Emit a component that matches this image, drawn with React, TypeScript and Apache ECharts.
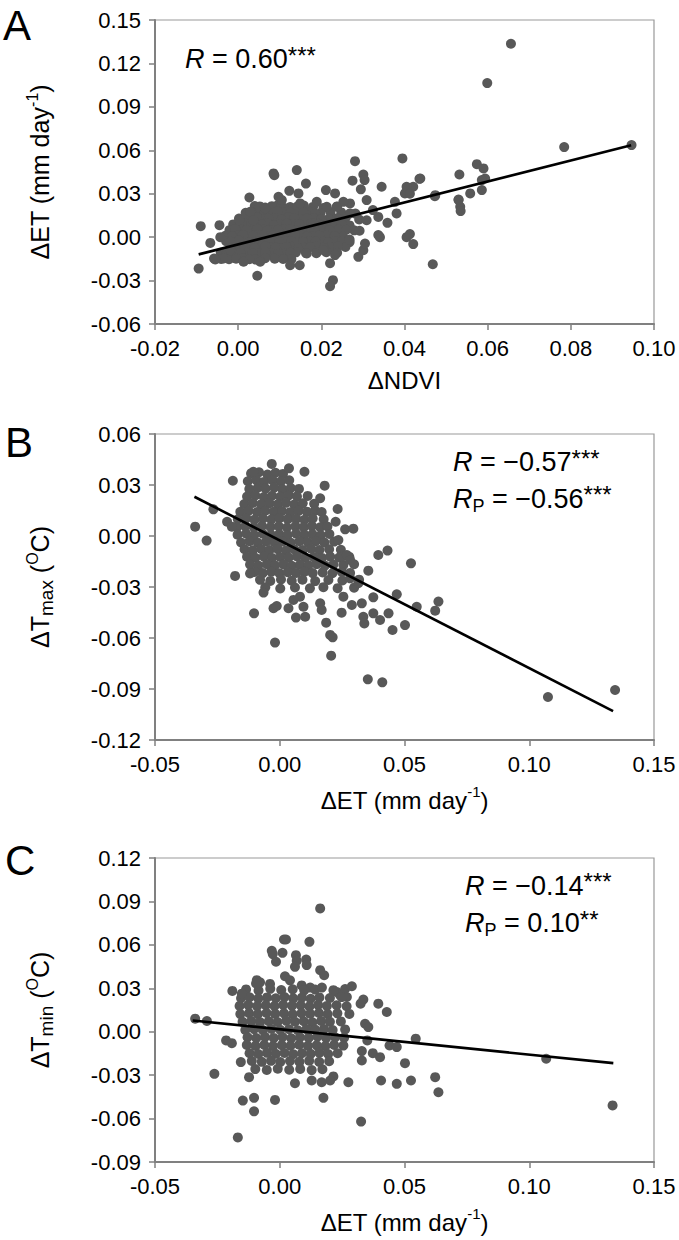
import React, { useEffect, useRef } from "react";
import * as echarts from "echarts";

const FONT = "'Liberation Sans', Arial, Helvetica, sans-serif";

// ---------- tick values ----------
const ndviTicks = [-0.02, 0.0, 0.02, 0.04, 0.06, 0.08, 0.1];
const etTicksA = [-0.06, -0.03, 0.0, 0.03, 0.06, 0.09, 0.12, 0.15];
const etTicks = [-0.05, 0.0, 0.05, 0.1, 0.15];
const tmaxTicks = [-0.12, -0.09, -0.06, -0.03, 0.0, 0.03, 0.06];
const tminTicks = [-0.09, -0.06, -0.03, 0.0, 0.03, 0.06, 0.09, 0.12];

// ---------- labels ----------
const panelLetters = ["A", "B", "C"];
const statsA = ["{i|R}{n| = 0.60}{s|***}"];
const statsB = ["{i|R}{n| = \u22120.57}{s|***}", "{i|R}{sub|P}{n| = \u22120.56}{s|***}"];
const statsC = ["{i|R}{n| = \u22120.14}{s|***}", "{i|R}{sub|P}{n| = 0.10}{s|**}"];
const titleNdvi = "{n|\u0394NDVI}";
const titleEt = "{n|\u0394ET (mm day}{sup|-1}{n|)}";
const titleTmax = "{n|\u0394T}{sub|max}{n| (}{sup|O}{n|C)}";
const titleTmin = "{n|\u0394T}{sub|min}{n| (}{sup|O}{n|C)}";

// ---------- Panel A: ΔNDVI vs ΔET ----------
const ndviEtPoints: [number, number][] = [
  [0.004, 0.0215], [0.0065, 0.0205], [0.0095, 0.022], [0.0125, 0.0208], [0.0158, 0.0218], [0.0205, 0.0202], [0.0238, 0.0212],
  [0.0052, 0.0212], [0.0081, 0.0214], [0.011, 0.0203], [0.0142, 0.0211], [0.018, 0.0209],
  [0.0018, 0.0168], [0.0048, 0.0176], [0.0078, 0.0165], [0.011, 0.0172], [0.0142, 0.0162], [0.0172, 0.0175], [0.0198, 0.0166], [0.0248, 0.0171], [0.0282, 0.0163],
  [0.0033, 0.017], [0.0063, 0.0163], [0.0094, 0.0177], [0.0126, 0.0168], [0.0157, 0.0171], [0.0185, 0.0161], [0.0222, 0.0174],
  [0.0002, 0.0128], [0.0031, 0.0134], [0.0059, 0.0125], [0.0088, 0.0131], [0.0121, 0.0136], [0.0149, 0.0124], [0.0182, 0.0132], [0.0218, 0.0127], [0.0259, 0.0135], [0.0291, 0.0122],
  [0.0016, 0.0124], [0.0045, 0.0137], [0.0073, 0.0129], [0.0104, 0.0122], [0.0135, 0.0133], [0.0165, 0.0129], [0.02, 0.0125], [0.0238, 0.0131],
  [-0.0012, 0.0088], [0.0019, 0.0092], [0.0042, 0.0085], [0.0071, 0.0095], [0.0101, 0.0087], [0.0132, 0.0091], [0.0161, 0.0084], [0.0192, 0.0093], [0.0229, 0.0089], [0.0268, 0.0081],
  [0.0004, 0.0084], [0.0031, 0.0097], [0.0057, 0.0089], [0.0086, 0.0083], [0.0117, 0.0094], [0.0147, 0.0088], [0.0176, 0.0096], [0.021, 0.0086], [0.0248, 0.0094],
  [-0.0021, 0.0048], [0.0008, 0.0052], [0.0033, 0.0045], [0.0058, 0.0055], [0.0082, 0.0049], [0.0111, 0.0054], [0.0139, 0.0046], [0.0168, 0.0051], [0.0199, 0.0044], [0.0241, 0.0053], [0.0279, 0.0047],
  [-0.0007, 0.0056], [0.002, 0.0049], [0.0046, 0.0058], [0.007, 0.0046], [0.0096, 0.0051], [0.0125, 0.0057], [0.0153, 0.0049], [0.0183, 0.0055], [0.022, 0.0048], [0.026, 0.0051],
  [-0.0031, 0.0009], [0.0001, 0.0012], [0.0022, 0.0006], [0.0049, 0.0014], [0.0072, 0.0008], [0.0098, 0.0011], [0.0121, 0.0005], [0.0151, 0.0013], [0.0179, 0.0007], [0.0212, 0.0012], [0.0252, 0.0004],
  [-0.0015, 0.0005], [0.0011, 0.0015], [0.0036, 0.0009], [0.006, 0.0004], [0.0085, 0.0014], [0.011, 0.0008], [0.0136, 0.0015], [0.0165, 0.0004], [0.0195, 0.0011], [0.0232, 0.0008],
  [-0.0029, -0.0028], [-0.0008, -0.0034], [0.0012, -0.0026], [0.0041, -0.0032], [0.0062, -0.0025], [0.0089, -0.0033], [0.0112, -0.0029], [0.0141, -0.0035], [0.0171, -0.0027], [0.0202, -0.0031], [0.0231, -0.0026], [0.0268, -0.0034],
  [-0.0018, -0.0031], [0.0002, -0.0024], [0.0027, -0.0035], [0.0051, -0.0029], [0.0076, -0.0027], [0.01, -0.0036], [0.0127, -0.0026], [0.0156, -0.0032], [0.0186, -0.003], [0.0216, -0.0035], [0.025, -0.0029],
  [-0.0018, -0.0068], [0.0003, -0.0074], [0.0028, -0.0066], [0.0052, -0.0073], [0.0079, -0.0069], [0.0102, -0.0075], [0.0129, -0.0067], [0.0158, -0.0072], [0.0188, -0.0065], [0.0221, -0.0071], [0.0258, -0.0068],
  [-0.0008, -0.0071], [0.0016, -0.0069], [0.004, -0.0077], [0.0066, -0.0065], [0.009, -0.0072], [0.0116, -0.0069], [0.0144, -0.0076], [0.0173, -0.0069], [0.0205, -0.0074], [0.024, -0.0065],
  [-0.0042, -0.0108], [-0.0011, -0.0113], [0.0021, -0.0106], [0.0049, -0.0115], [0.0081, -0.0109], [0.0112, -0.0112], [0.0139, -0.0105], [0.0188, -0.0111], [0.0238, -0.0107],
  [-0.0027, -0.0111], [0.0005, -0.0109], [0.0035, -0.0112], [0.0065, -0.0104], [0.0096, -0.0115], [0.0126, -0.0108], [0.0163, -0.011], [0.0212, -0.0104],
  [-0.0058, -0.0148], [-0.0022, -0.0152], [0.0011, -0.0146], [0.0042, -0.0155], [0.0088, -0.0149], [0.0128, -0.0153],
  [-0.0041, -0.0151], [-0.0005, -0.0149], [0.0027, -0.0153], [0.0065, -0.0146], [0.0108, -0.0151],
  [-0.009, 0.0076], [-0.0095, -0.0217], [-0.0067, -0.004], [-0.0045, 0.0083], [-0.0043, 0.0], [0.0027, 0.0274], [0.0046, -0.0267],
  [0.0085, 0.044], [0.0087, 0.0428], [0.0141, 0.0463], [0.0163, 0.037], [0.0123, 0.032], [0.0148, -0.0194], [0.0221, -0.018],
  [0.0228, -0.0297], [0.0221, -0.0339], [0.0233, -0.0124], [0.0281, 0.0525], [0.0301, 0.0433], [0.0304, 0.0394], [0.0275, 0.039],
  [0.0295, 0.033], [0.0211, 0.0325], [0.0345, 0.0348], [0.0309, 0.0256], [0.0395, 0.0544], [0.0438, 0.0405], [0.0421, 0.0348],
  [0.0401, 0.0302], [0.0405, 0.0348], [0.0377, 0.0244], [0.0381, 0.0164], [0.0359, 0.0099], [0.0337, 0.0014], [0.0341, 0.0],
  [0.0405, 0.0], [0.0413, 0.0021], [0.0421, -0.0048], [0.0468, -0.0187], [0.0473, 0.0283], [0.0532, 0.0433], [0.053, 0.0256],
  [0.0534, 0.021], [0.0535, 0.018], [0.0574, 0.0504], [0.059, 0.0475], [0.0586, 0.0325], [0.0558, 0.0302], [0.0594, 0.0405],
  [0.0586, 0.0394], [0.0436, 0.0403], [0.0474, 0.029], [0.053, 0.026], [0.0413, 0.03],
  [0.0289, -0.0136], [0.0301, -0.009], [0.0305, -0.0044], [0.0292, 0.0044], [0.0268, -0.0016], [0.0337, 0.014], [0.0324, 0.0187],
  [0.0309, 0.0117], [0.0269, 0.0164], [0.0269, 0.0233], [0.0253, 0.0244], [0.0237, 0.021], [0.0213, 0.021], [0.0233, 0.0302],
  [0.0189, 0.0244], [0.0181, 0.0094], [0.0205, -0.009], [0.0165, -0.0113], [0.0125, -0.0194], [0.0029, 0.0175], [0.0003, 0.0117],
  [-0.0035, -0.0147], [-0.0055, -0.0154], [-0.0019, -0.009], [0.0013, -0.017], [0.0053, -0.017], [0.0097, 0.0279], [0.0105, 0.0256],
  [0.0145, 0.0302], [0.0149, 0.0233], [0.0065, 0.0198], [0.0037, 0.0117],
  [0.0656, 0.1336], [0.0599, 0.1064], [0.0784, 0.0622], [0.0946, 0.0636],
];
const ndviEtFit: [number, number][] = [[-0.0095, -0.0119], [0.0945, 0.0635]];

// ---------- Panel B: ΔET vs ΔTmax ----------
const etTmaxPoints: [number, number][] = [
  [-0.0115, 0.0368], [-0.0083, 0.0375], [-0.0049, 0.0362], [-0.0017, 0.0372], [0.0013, 0.0365],
  [-0.0128, 0.0322], [-0.0094, 0.0329], [-0.0063, 0.0318], [-0.0028, 0.0327], [0.0005, 0.0321], [0.0038, 0.0328],
  [-0.0122, 0.0276], [-0.0088, 0.0284], [-0.0057, 0.0279], [-0.0022, 0.0285], [0.0011, 0.0274], [0.0044, 0.0282], [0.0077, 0.0277],
  [-0.0131, 0.0232], [-0.0098, 0.0238], [-0.0064, 0.0229], [-0.0031, 0.0237], [0.0002, 0.0231], [0.0036, 0.0239], [0.0069, 0.0233], [0.0112, 0.0236],
  [-0.0142, 0.0188], [-0.0108, 0.0194], [-0.0075, 0.0186], [-0.0041, 0.0193], [-0.0008, 0.0187], [0.0025, 0.0195], [0.0058, 0.0185], [0.0092, 0.0192], [0.0138, 0.0189],
  [-0.0158, 0.0142], [-0.0125, 0.0148], [-0.0091, 0.0141], [-0.0058, 0.0149], [-0.0024, 0.0143], [0.0009, 0.0147], [0.0042, 0.014], [0.0076, 0.0148], [0.0109, 0.0143], [0.0142, 0.0149], [0.0168, 0.0141],
  [-0.0168, 0.0098], [-0.0134, 0.0104], [-0.0101, 0.0096], [-0.0067, 0.0103], [-0.0034, 0.0097], [-0.0001, 0.0105], [0.0032, 0.0099], [0.0066, 0.0102], [0.0099, 0.0095], [0.0132, 0.0103], [0.0176, 0.0098],
  [-0.0171, 0.0052], [-0.0138, 0.0058], [-0.0104, 0.0051], [-0.0071, 0.0059], [-0.0037, 0.0053], [-0.0004, 0.0057], [0.0029, 0.005], [0.0063, 0.0058], [0.0096, 0.0052], [0.0129, 0.0059], [0.0162, 0.0051], [0.0191, 0.0056],
  [-0.0169, 0.0008], [-0.0135, 0.0014], [-0.0102, 0.0006], [-0.0068, 0.0013], [-0.0035, 0.0007], [-0.0002, 0.0012], [0.0031, 0.0005], [0.0065, 0.0014], [0.0098, 0.0008], [0.0131, 0.0011], [0.0165, 0.0004], [0.0199, 0.0012],
  [-0.0155, -0.0038], [-0.0121, -0.0031], [-0.0088, -0.0039], [-0.0054, -0.0032], [-0.0021, -0.0037], [0.0012, -0.0033], [0.0045, -0.004], [0.0079, -0.0031], [0.0112, -0.0036], [0.0145, -0.003], [0.0179, -0.0038], [0.0218, -0.0033],
  [-0.0141, -0.0078], [-0.0108, -0.0084], [-0.0074, -0.0076], [-0.0041, -0.0083], [-0.0008, -0.0077], [0.0026, -0.0085], [0.0059, -0.0079], [0.0092, -0.0082], [0.0126, -0.0075], [0.0159, -0.0083], [0.0198, -0.0078], [0.0245, -0.0081],
  [-0.0131, -0.0122], [-0.0098, -0.0128], [-0.0064, -0.0121], [-0.0031, -0.0129], [0.0002, -0.0123], [0.0036, -0.0127], [0.0069, -0.012], [0.0102, -0.0128], [0.0136, -0.0124], [0.0169, -0.0129], [0.0202, -0.0121], [0.0238, -0.0127], [0.0279, -0.0123],
  [-0.0119, -0.0168], [-0.0086, -0.0174], [-0.0052, -0.0166], [-0.0019, -0.0173], [0.0015, -0.0167], [0.0048, -0.0175], [0.0081, -0.0169], [0.0115, -0.0172], [0.0148, -0.0165], [0.0181, -0.0174], [0.0215, -0.0168], [0.0255, -0.0171], [0.0298, -0.0166],
  [-0.0101, -0.0212], [-0.0068, -0.0218], [-0.0034, -0.0211], [-0.0001, -0.0219], [0.0032, -0.0213], [0.0066, -0.0217], [0.0099, -0.021], [0.0132, -0.0218], [0.0172, -0.0214], [0.0211, -0.0219], [0.0249, -0.0212], [0.0282, -0.0217],
  [-0.0079, -0.0258], [-0.0038, -0.0264], [0.0005, -0.0256], [0.0048, -0.0263], [0.0091, -0.0257], [0.0142, -0.0265], [0.0195, -0.0259], [0.0251, -0.0262], [0.0318, -0.0257],
  [-0.0058, -0.0302], [0.0002, -0.0309], [0.0061, -0.0303], [0.0121, -0.0308], [0.0175, -0.0301], [0.0232, -0.0307], [0.0298, -0.0304],
  [-0.0339, 0.0055], [-0.0293, -0.0027], [-0.0266, 0.0157], [-0.0188, 0.0325], [-0.0211, 0.0084], [-0.0192, 0.0055], [-0.0179, -0.0235],
  [-0.0103, -0.0455], [-0.0119, -0.022], [-0.0065, -0.0333], [-0.0032, 0.0424], [-0.0106, 0.0378], [0.0037, 0.0398], [0.0099, 0.0378],
  [-0.0019, -0.0627], [0.018, 0.0296], [0.0162, 0.0222], [0.0232, 0.0159], [0.0224, 0.0084], [0.0262, 0.0039], [0.0295, 0.0043],
  [0.0235, -0.0024], [0.0395, -0.0112], [0.0432, -0.0086], [0.0526, -0.0161], [0.0355, -0.0204], [0.0469, -0.0343], [0.0549, -0.0416],
  [0.0636, -0.0386], [0.0623, -0.0439], [0.0502, -0.0524], [0.0452, -0.0553], [0.0402, -0.0494], [0.0436, -0.0455], [0.0375, -0.0455],
  [0.0335, -0.0475], [0.0339, -0.0514], [0.0248, -0.0451], [0.0186, -0.051], [0.0202, -0.0582], [0.0212, -0.0596], [0.0206, -0.0704],
  [0.0353, -0.0843], [0.0411, -0.0861], [0.0289, -0.0406], [0.0329, -0.0396], [0.0375, -0.0361], [0.0255, -0.0357], [0.0162, -0.0396],
  [0.0168, -0.0435], [0.0095, -0.0416], [0.0102, -0.0475], [0.0065, -0.048], [0.0035, -0.0425], [-0.0025, -0.0425], [-0.0012, -0.0412],
  [0.0081, -0.0357], [0.0055, -0.0376], [0.0282, -0.0249], [0.0315, -0.0278], [0.0249, -0.0122], [0.0269, -0.0112], [0.0282, -0.0141],
  [0.1075, -0.0947], [0.1344, -0.0906],
];
const etTmaxFit: [number, number][] = [[-0.0342, 0.0231], [0.1336, -0.103]];

// ---------- Panel C: ΔET vs ΔTmin ----------
const etTminPoints: [number, number][] = [
  [-0.0079, 0.0341], [-0.0039, 0.033], [0.0021, 0.0383], [0.0041, 0.0355], [0.0088, 0.032], [0.0122, 0.0305], [0.0228, 0.0275], [0.0242, 0.0252], [0.0269, 0.024],
  [-0.0135, 0.0292], [-0.0085, 0.0284], [-0.0038, 0.0296], [0.0006, 0.0288], [0.0052, 0.0293], [0.0098, 0.0286], [0.0142, 0.0291], [0.0215, 0.0287], [0.0262, 0.0295],
  [-0.0155, 0.0232], [-0.0121, 0.0238], [-0.0086, 0.0229], [-0.0051, 0.0237], [-0.0016, 0.0231], [0.0019, 0.0239], [0.0054, 0.023], [0.0089, 0.0236], [0.0124, 0.0228], [0.0159, 0.0237], [0.0201, 0.0233], [0.0248, 0.0239],
  [-0.0161, 0.0178], [-0.0126, 0.0184], [-0.0091, 0.0176], [-0.0056, 0.0183], [-0.0021, 0.0177], [0.0014, 0.0185], [0.0049, 0.0179], [0.0084, 0.0182], [0.0119, 0.0175], [0.0154, 0.0184], [0.0189, 0.0178], [0.0228, 0.0183], [0.0268, 0.0176],
  [-0.0158, 0.0122], [-0.0123, 0.0128], [-0.0088, 0.0121], [-0.0053, 0.0129], [-0.0018, 0.0123], [0.0017, 0.0127], [0.0052, 0.012], [0.0087, 0.0128], [0.0122, 0.0124], [0.0157, 0.0129], [0.0192, 0.0121], [0.0231, 0.0127], [0.0279, 0.0123],
  [-0.0149, 0.0068], [-0.0114, 0.0074], [-0.0079, 0.0066], [-0.0044, 0.0073], [-0.0009, 0.0067], [0.0026, 0.0075], [0.0061, 0.0069], [0.0096, 0.0072], [0.0131, 0.0065], [0.0166, 0.0074], [0.0201, 0.0068], [0.0245, 0.0071],
  [-0.0138, 0.0012], [-0.0103, 0.0018], [-0.0068, 0.0011], [-0.0033, 0.0019], [0.0002, 0.0013], [0.0037, 0.0017], [0.0072, 0.001], [0.0107, 0.0018], [0.0142, 0.0014], [0.0177, 0.0019], [0.0212, 0.0011], [0.0262, 0.0016],
  [-0.0129, -0.0038], [-0.0094, -0.0044], [-0.0059, -0.0036], [-0.0024, -0.0043], [0.0011, -0.0037], [0.0046, -0.0045], [0.0081, -0.0039], [0.0116, -0.0042], [0.0151, -0.0035], [0.0186, -0.0044], [0.0222, -0.0038], [0.0258, -0.0041],
  [-0.0132, -0.0092], [-0.0097, -0.0098], [-0.0062, -0.0091], [-0.0027, -0.0099], [0.0008, -0.0093], [0.0043, -0.0097], [0.0078, -0.009], [0.0113, -0.0098], [0.0148, -0.0094], [0.0183, -0.0099], [0.0218, -0.0091], [0.0255, -0.0096],
  [-0.0121, -0.0148], [-0.0086, -0.0154], [-0.0051, -0.0146], [-0.0016, -0.0153], [0.0019, -0.0147], [0.0054, -0.0155], [0.0089, -0.0149], [0.0124, -0.0152], [0.0159, -0.0145], [0.0194, -0.0154], [0.0232, -0.0148],
  [-0.0112, -0.0202], [-0.0072, -0.0208], [-0.0035, -0.0201], [0.0002, -0.0209], [0.0041, -0.0203], [0.0079, -0.0207], [0.0118, -0.02], [0.0158, -0.0208], [0.0198, -0.0204],
  [-0.0098, -0.0258], [-0.0052, -0.0264], [-0.0008, -0.0256], [0.0038, -0.0263], [0.0082, -0.0257], [0.0128, -0.0265], [0.0171, -0.0259],
  [0.0162, 0.0852], [0.0017, 0.0637], [0.0025, 0.0637], [0.0119, 0.0621], [-0.0032, 0.0559], [-0.0028, 0.0536], [0.0011, 0.0545],
  [-0.0015, 0.0483], [0.0065, 0.0529], [0.0068, 0.049], [0.0106, 0.0499], [0.0108, 0.046], [0.0061, 0.0448], [0.0162, 0.0425],
  [0.0178, 0.039], [0.0169, 0.0305], [-0.0092, 0.0356], [-0.0095, 0.0333], [-0.019, 0.0282], [-0.0152, 0.0263], [0.0289, 0.0314],
  [0.0335, 0.0222], [0.0324, 0.0194], [0.0395, 0.0194], [0.0429, 0.0136], [0.0342, 0.0055], [0.0355, 0.0032], [-0.0339, 0.009],
  [-0.0292, 0.0074], [-0.0215, -0.006], [-0.0192, -0.0079], [-0.0262, -0.0291], [-0.0156, -0.021], [-0.0123, -0.0314], [-0.0148, -0.0476],
  [-0.0103, -0.0457], [-0.0103, -0.055], [-0.0019, -0.0471], [-0.0168, -0.073], [0.0061, -0.0356], [0.0175, -0.0457], [0.0275, -0.0349],
  [0.0326, -0.0621], [0.0329, -0.0199], [0.0329, -0.0134], [0.0373, -0.0148], [0.0402, -0.0176], [0.0351, -0.006], [0.0406, -0.0337],
  [0.0469, -0.036], [0.0526, -0.0337], [0.044, -0.0095], [0.0469, -0.0106], [0.0502, -0.0217], [0.0545, -0.0048], [0.0623, -0.0314],
  [0.0636, -0.0418], [0.0215, -0.0309], [0.0202, -0.0337], [0.0128, -0.0337], [0.0168, -0.0349],
  [0.1068, -0.0187], [0.1334, -0.0509],
];
const etTminFit: [number, number][] = [[-0.0349, 0.0078], [0.1337, -0.0217]];

// ---------- layout ----------
const W = 679;
const H = 1240;
const grids = [
  { left: 155, top: 20, width: 499, height: 304 },
  { left: 155, top: 434, width: 499, height: 306 },
  { left: 155, top: 858, width: 499, height: 304 },
];
const letterPos = [
  { x: 3, y: 25 },
  { x: 5, y: 442 },
  { x: 5, y: 860 },
];
const statPos = [
  { x: 185, y: 59, dy: 0 },
  { x: 453, y: 462, dy: 36.5 },
  { x: 465, y: 885.5, dy: 37.5 },
];

const DOT = "#585858";
const AXIS = "#808080";

const step = (t: number[]) => +(t[1] - t[0]).toFixed(4);
const fmt = (v: number) => (Math.abs(v) < 1e-9 ? "0.00" : v.toFixed(2));

const makeRich = (size: number) => ({
  n: { fontSize: size, fontFamily: FONT, color: "#000", lineHeight: 32 },
  sup: { fontSize: Math.round(size * 0.64), fontFamily: FONT, color: "#000", verticalAlign: "top", lineHeight: 18 },
  sub: { fontSize: Math.round(size * 0.74), fontFamily: FONT, color: "#000", verticalAlign: "bottom", lineHeight: 20 },
});
const nameRichX = makeRich(24);
const nameRichY = makeRich(25);

function makeAxis(ticks: number[], gridIndex: number, name: string, isY: boolean) {
  return {
    type: "value",
    gridIndex,
    min: ticks[0],
    max: ticks[ticks.length - 1],
    interval: step(ticks),
    name,
    nameLocation: "middle",
    nameGap: isY ? 99 : gridIndex === 0 ? 40 : 44,
    nameRotate: isY ? 90 : 0,
    nameTextStyle: { rich: isY ? nameRichY : nameRichX, fontFamily: FONT, color: "#000" },
    axisLine: { show: true, onZero: false, lineStyle: { color: AXIS, width: 2 } },
    axisTick: { show: true, inside: false, length: 6, lineStyle: { color: AXIS, width: 1.5 } },
    axisLabel: {
      formatter: fmt,
      fontSize: 22,
      fontFamily: FONT,
      color: "#000",
      margin: isY ? 14 : 13,
    },
    splitLine: { show: false },
  };
}

const statRich = {
  i: { fontSize: 27, fontStyle: "italic", fontFamily: FONT, fill: "#000", lineHeight: 32 },
  n: { fontSize: 27, fontFamily: FONT, fill: "#000", lineHeight: 32 },
  s: { fontSize: 24, fontFamily: FONT, fill: "#000", verticalAlign: "top", lineHeight: 29 },
  sub: { fontSize: 18, fontFamily: FONT, fill: "#000", verticalAlign: "bottom", lineHeight: 20 },
};

export default function App() {
  const ref = useRef<HTMLDivElement>(null);

  useEffect(() => {
    if (!ref.current) return;
    const chart = echarts.init(ref.current, null, { renderer: "svg", width: W, height: H });

    const scatter = (data: [number, number][], i: number) => ({
      type: "scatter",
      xAxisIndex: i,
      yAxisIndex: i,
      data,
      symbol: "circle",
      symbolSize: 10,
      itemStyle: { color: DOT, opacity: 1 },
      z: 2,
    });
    const fit = (data: [number, number][], i: number) => ({
      type: "line",
      xAxisIndex: i,
      yAxisIndex: i,
      data,
      symbol: "none",
      lineStyle: { color: "#000", width: 2.6 },
      z: 3,
    });

    const stats = [statsA, statsB, statsC];
    const graphics: any[] = [];
    panelLetters.forEach((l, i) => {
      graphics.push({
        type: "text",
        x: letterPos[i].x,
        y: letterPos[i].y,
        style: {
          text: l,
          font: `42px ${FONT}`,
          fill: "#000",
          align: "left",
          verticalAlign: "middle",
        },
      });
      stats[i].forEach((s, k) => {
        graphics.push({
          type: "text",
          x: statPos[i].x,
          y: statPos[i].y + k * statPos[i].dy,
          style: {
            text: s,
            rich: statRich,
            font: `27px ${FONT}`,
            fill: "#000",
            align: "left",
            verticalAlign: "middle",
          },
        });
      });
    });

    chart.setOption({
      animation: false,
      backgroundColor: "#fff",
      grid: grids.map((g) => ({ ...g, show: true, borderColor: "#999", borderWidth: 1.2, backgroundColor: "transparent" })),
      xAxis: [
        makeAxis(ndviTicks, 0, titleNdvi, false),
        makeAxis(etTicks, 1, titleEt, false),
        makeAxis(etTicks, 2, titleEt, false),
      ],
      yAxis: [
        makeAxis(etTicksA, 0, titleEt, true),
        makeAxis(tmaxTicks, 1, titleTmax, true),
        makeAxis(tminTicks, 2, titleTmin, true),
      ],
      series: [
        scatter(ndviEtPoints, 0),
        fit(ndviEtFit, 0),
        scatter(etTmaxPoints, 1),
        fit(etTmaxFit, 1),
        scatter(etTminPoints, 2),
        fit(etTminFit, 2),
      ],
      graphic: graphics,
    });

    return () => chart.dispose();
  }, []);

  return (
    <div
      ref={ref}
      style={{ position: "absolute", left: 0, top: 0, width: W, height: H, background: "#fff" }}
    />
  );
}
